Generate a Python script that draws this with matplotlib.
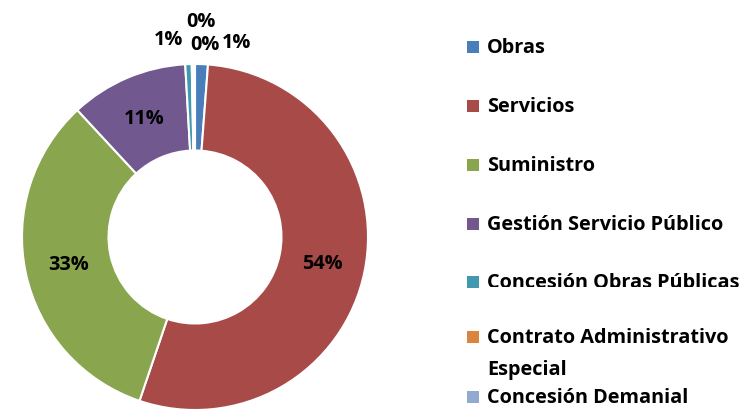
import math
import matplotlib
matplotlib.use("Agg")
import matplotlib.pyplot as plt
from matplotlib.patches import Rectangle
from matplotlib.transforms import Bbox

# contract types, share of total (%)
categories = ["Obras", "Servicios", "Suministro", "Gestión Servicio Público",
              "Concesión Obras Públicas", "Contrato Administrativo\nEspecial",
              "Concesión Demanial"]
shares = [1.2, 54.0, 32.9, 11.0, 0.6, 0.2, 0.1]
colors = ["#4A7EBB", "#A74A48", "#89A54E", "#71588F", "#4298AF", "#DB843D", "#93A9CF"]

# extra nudges for the tiny slices' labels (data units)
label_offsets = {0: (0.20, 0.0), 4: (-0.11, 0.015), 5: (0.07, -0.015), 6: (0.04, 0.12)}

W, H = 749, 414
fig = plt.figure(figsize=(W / 100, H / 100), dpi=100)
plt.rcParams["font.family"] = ["Open Sans", "DejaVu Sans"]
FS = 14.3
FW = "bold"

cx, cy, r = 195, 238, 173
ax = fig.add_axes([(cx - r) / W, (H - cy - r) / H, 2 * r / W, 2 * r / H])
wedges, _ = ax.pie(shares, colors=colors, startangle=90, counterclock=False,
                   radius=1.0, wedgeprops=dict(width=0.5, edgecolor="white", linewidth=1.5))
ax.set_xlim(-1, 1)
ax.set_ylim(-1, 1)
ax.set_aspect("equal")
ax.axis("off")

for i, w in enumerate(wedges):
    mid = math.radians((w.theta1 + w.theta2) / 2)
    if shares[i] >= 5:
        rr = 0.75
        dx, dy = 0, 0
    else:
        rr = 1.13
        dx, dy = label_offsets.get(i, (0, 0))
    x = rr * math.cos(mid) + dx
    y = rr * math.sin(mid) + dy
    ax.text(x, y, f"{round(shares[i])}%", ha="center", va="center",
            fontsize=FS, fontweight=FW, color="black", clip_on=False)

# legend drawn by hand, Excel-like spacing
legend_y = [48, 107, 166, 225, 283, 338, 398]
line_gap = 32
for i, lab in enumerate(categories):
    y = legend_y[i]
    fig.patches.append(Rectangle((467 / W, (H - y - 6) / H), 12 / W, 12 / H,
                                 transform=fig.transFigure, facecolor=colors[i],
                                 edgecolor="none"))
    for k, part in enumerate(lab.split("\n")):
        t = fig.text(487 / W, (H - y - k * line_gap) / H, part, ha="left", va="center",
                     fontsize=FS, fontweight=FW, color="black")
        if i == 4:
            # this entry is cut off at the bottom in the original
            t.set_clip_on(True)
            t.set_clip_box(Bbox.from_extents(0, H - 288, W, H))

fig.savefig("out.png", dpi=100)
